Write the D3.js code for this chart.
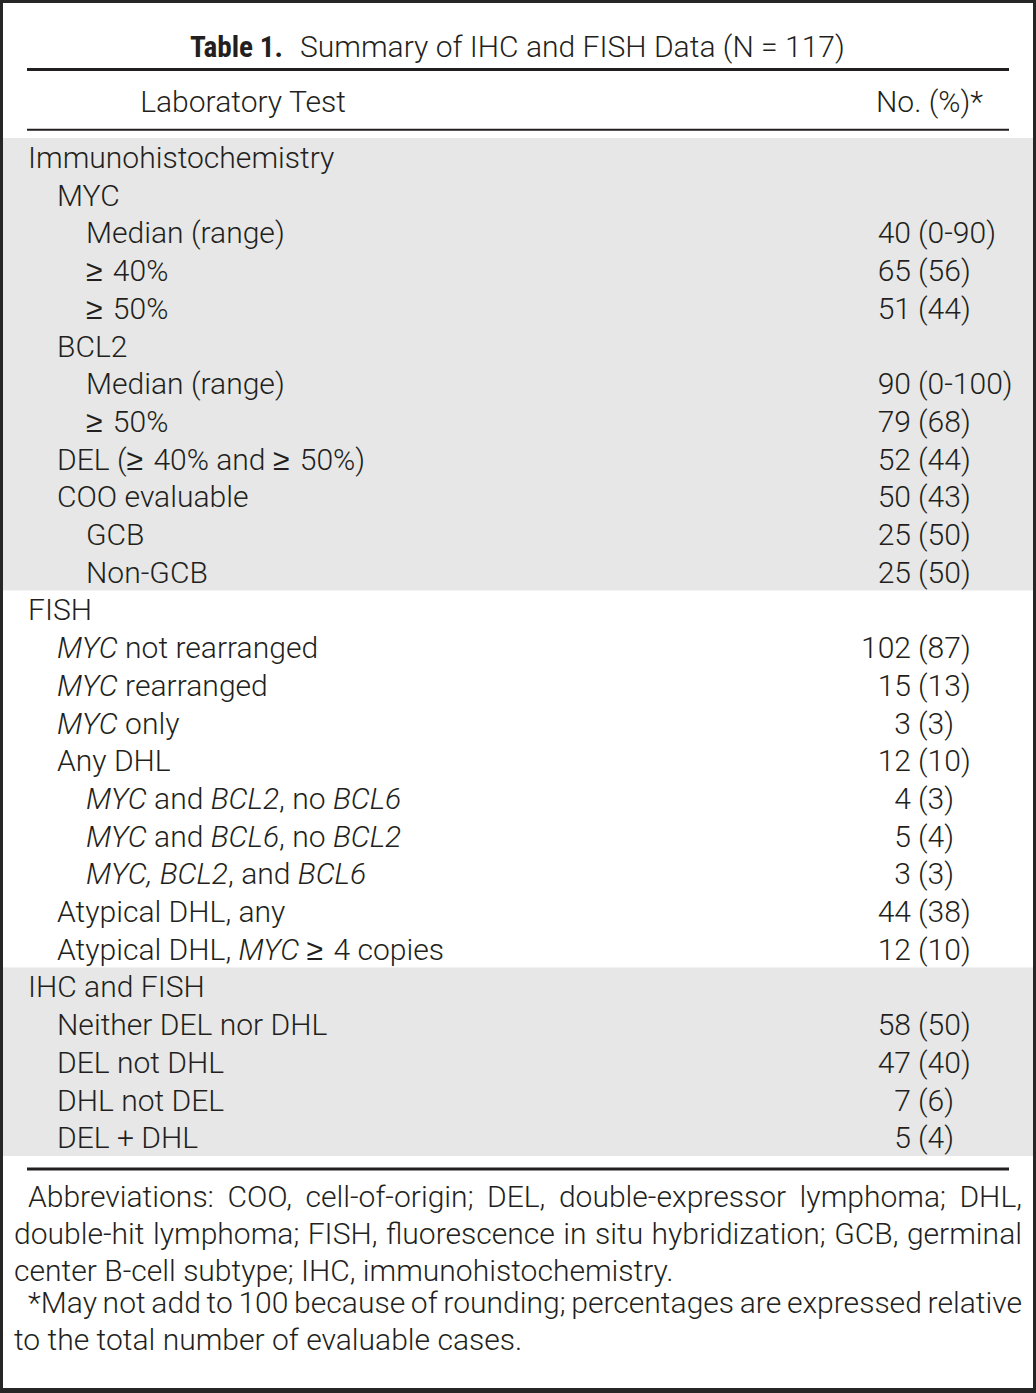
<!DOCTYPE html>
<html><head><meta charset="utf-8">
<script src="https://cdn.jsdelivr.net/npm/d3@7"></script>
<style>html,body{margin:0;padding:0;background:#fff}</style>
</head><body><div id="chart"></div>
<script>
// ---------- data ----------
const titleBold = "Table 1.";
const titleText = "Summary of IHC and FISH Data (N = 117)";
const headerLabel = "Laboratory Test";
const headerValue = "No. (%)*";

const rowLabels = [
  "Immunohistochemistry", "MYC", "Median (range)", "≥ 40%", "≥ 50%", "BCL2",
  "Median (range)", "≥ 50%", "DEL (≥ 40% and ≥ 50%)", "COO evaluable", "GCB", "Non-GCB",
  "FISH", "_MYC_ not rearranged", "_MYC_ rearranged", "_MYC_ only", "Any DHL",
  "_MYC_ and _BCL2_, no _BCL6_", "_MYC_ and _BCL6_, no _BCL2_", "_MYC,_ _BCL2_, and _BCL6_",
  "Atypical DHL, any", "Atypical DHL, _MYC_ ≥ 4 copies",
  "IHC and FISH", "Neither DEL nor DHL", "DEL not DHL", "DHL not DEL", "DEL + DHL"
];
const rowLevels = [0,1,2,2,2,1,2,2,1,1,2,2, 0,1,1,1,1,2,2,2,1,1, 0,1,1,1,1];
const rowCounts = ["","","40","65","51","","90","79","52","50","25","25",
                   "","102","15","3","12","4","5","3","44","12",
                   "","58","47","7","5"];
const rowPercents = ["","","(0-90)","(56)","(44)","","(0-100)","(68)","(44)","(43)","(50)","(50)",
                     "","(87)","(13)","(3)","(10)","(3)","(4)","(3)","(38)","(10)",
                     "","(50)","(40)","(6)","(4)"];
const groupStarts = [0, 12, 22];
const groupSizes = [12, 10, 5];
const groupShaded = [true, false, true];

const footnoteLines = [
  "Abbreviations: COO, cell-of-origin; DEL, double-expressor lymphoma; DHL,",
  "double-hit lymphoma; FISH, fluorescence in situ hybridization; GCB, germinal",
  "center B-cell subtype; IHC, immunohistochemistry.",
  "*May not add to 100 because of rounding; percentages are expressed relative",
  "to the total number of evaluable cases."
];
const footnoteJustify = [true, true, false, true, false];
const footnoteIndent = [true, false, false, true, false];

// ---------- layout / style ----------
const W = 1036, H = 1393;
const FONT = "Roboto, 'Liberation Sans', 'DejaVu Sans', sans-serif";
const SYMFONT = "'Liberation Sans', Roboto, sans-serif";
const WEIGHT = 300;
const INK = "#231f20", SHADE = "#e6e7e6", FRAME = "#262626";

const svg = d3.select("#chart").append("svg").attr("width", W).attr("height", H);
svg.append("rect").attr("width", W).attr("height", H).attr("fill", FRAME);
svg.append("rect").attr("x", 3).attr("y", 3).attr("width", 1030).attr("height", 1385).attr("fill", "#fff");

// fit body font size to the reference width of the title text
const probe = svg.append("text").attr("font-family", FONT).attr("font-weight", WEIGHT)
  .attr("font-size", 100).text(titleText);
const w100 = probe.node().getComputedTextLength();
probe.remove();
const FS = 100 * 545 / w100;
const GE_EXTRA = FS * 0.1;

function txt(sel) {
  return sel.attr("font-family", FONT).attr("font-weight", WEIGHT)
    .attr("font-size", FS).attr("fill", INK).attr("xml:space", "preserve")
    .style("white-space", "pre");
}

const y = d3.scaleLinear().domain([0, rowLabels.length]).range([138, 1156]);
const xIndent = d3.scaleLinear().domain([0, 2]).range([28, 86]);
const BASE = 30;

// shading
groupStarts.forEach((s, i) => {
  if (!groupShaded[i]) return;
  svg.append("rect").attr("x", 3).attr("width", 1030)
    .attr("y", y(s)).attr("height", y(s + groupSizes[i]) - y(s)).attr("fill", SHADE);
});

// rules
[[69.5, 3], [129.7, 2], [1169, 3]].forEach(([yy, sw]) => {
  svg.append("line").attr("x1", 27).attr("x2", 1009).attr("y1", yy).attr("y2", yy)
    .attr("stroke", INK).attr("stroke-width", sw);
});

// title
svg.append("text").attr("x", 190).attr("y", 57)
  .attr("font-family", "'Liberation Sans Narrow', 'Roboto Condensed', Roboto, sans-serif")
  .attr("font-weight", 700).attr("font-size", FS).attr("fill", INK)
  .attr("textLength", 93).attr("lengthAdjust", "spacingAndGlyphs").text(titleBold);
txt(svg.append("text")).attr("x", 300).attr("y", 57).text(titleText);

// header
txt(svg.append("text")).attr("x", 243).attr("y", 112).attr("text-anchor", "middle").text(headerLabel);
txt(svg.append("text")).attr("x", 983).attr("y", 112).attr("text-anchor", "end").text(headerValue);

// rows
const rows = svg.append("g").selectAll("g").data(rowLabels).join("g")
  .attr("transform", (d, i) => `translate(0,${y(i) + BASE})`);

rows.each(function (d, i) {
  const g = d3.select(this);
  const t = txt(g.append("text")).attr("x", xIndent(rowLevels[i]));
  d.split("_").forEach((seg, k) => {
    if (!seg) return;
    const style = k % 2 ? "italic" : "normal";
    seg.split("≥ ").forEach((part, j) => {
      if (j > 0) {
        t.append("tspan").attr("font-family", SYMFONT).attr("font-weight", 400).text("≥");
        t.append("tspan").attr("font-style", style).attr("dx", GE_EXTRA).text(" ");
      }
      if (part) t.append("tspan").attr("font-style", style).text(part);
    });
  });
  if (rowCounts[i]) {
    txt(g.append("text")).attr("x", 911).attr("text-anchor", "end").text(rowCounts[i]);
    txt(g.append("text")).attr("x", 918).text(rowPercents[i]);
  }
});

// footnotes
const footBaselines = [1207, 1244, 1281, 1313, 1350];
const fg = svg.append("g");
const sp1 = txt(fg.append("text")).text("a a"); const sp2 = txt(fg.append("text")).text("aa");
const spaceW = sp1.node().getComputedTextLength() - sp2.node().getComputedTextLength();
sp1.remove(); sp2.remove();

footnoteLines.forEach((line, li) => {
  const x0 = footnoteIndent[li] ? 28 : 14, x1 = 1022;
  const words = line.split(" ");
  const nodes = words.map(w => txt(fg.append("text")).attr("y", footBaselines[li]).text(w));
  const widths = nodes.map(n => n.node().getComputedTextLength());
  const sum = d3.sum(widths);
  const gap = footnoteJustify[li] ? (x1 - x0 - sum) / (words.length - 1) : spaceW;
  let cx = x0;
  nodes.forEach((n, i) => { n.attr("x", cx); cx += widths[i] + gap; });
});
</script>
</body></html>
